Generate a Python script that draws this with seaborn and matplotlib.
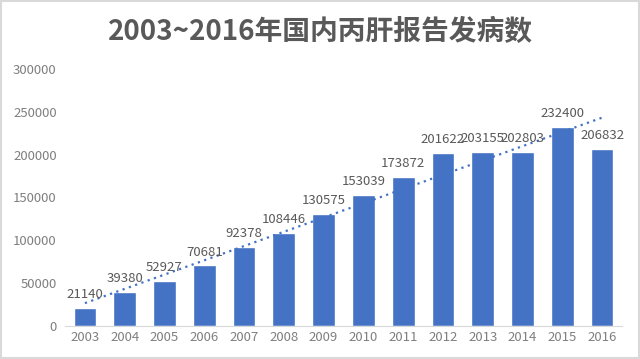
import matplotlib
matplotlib.use("Agg")
import matplotlib.pyplot as plt
import seaborn as sns
import pandas as pd
import numpy as np

years = ["2003", "2004", "2005", "2006", "2007", "2008", "2009",
         "2010", "2011", "2012", "2013", "2014", "2015", "2016"]
cases = [21140, 39380, 52927, 70681, 92378, 108446, 130575,
         153039, 173872, 201622, 203155, 202803, 232400, 206832]

df = pd.DataFrame({"year": years, "cases": cases})

sns.set_style("white")
plt.rcParams["font.family"] = ["Noto Sans CJK SC", "DejaVu Sans"]

fig = plt.figure(figsize=(6.4, 3.59), dpi=100)
ax = fig.add_axes([65 / 640, 33 / 359, 557 / 640, 257 / 359])

blue = "#4472C4"
grey = "#595959"
light = "#7f7f7f"

sns.barplot(data=df, x="year", y="cases", color=blue, width=0.57,
            saturation=1, ax=ax)

ax.bar_label(ax.containers[0], labels=[str(v) for v in cases],
             padding=5, fontsize=9.5, color=grey)

# linear trendline
xs = np.arange(len(cases))
k, b = np.polyfit(xs, cases, 1)
ax.plot(xs, k * xs + b, linestyle=(0, (1, 2)), color=blue, linewidth=1.6)

ax.set_xlim(-0.5, len(cases) - 0.5)
ax.set_ylim(0, 300000)
ax.set_yticks(range(0, 300001, 50000))
ax.set_xlabel("")
ax.set_ylabel("")
ax.tick_params(axis="both", length=0, labelsize=9.5, labelcolor=light)
ax.tick_params(axis="y", pad=6)
for s in ["top", "right", "left"]:
    ax.spines[s].set_visible(False)
ax.spines["bottom"].set_color("#d9d9d9")

fig.text(0.5, 0.912, "2003~2016年国内丙肝报告发病数", ha="center", va="center",
         fontsize=20, fontweight="bold", color=grey)

fig.patches.append(plt.Rectangle((0.002, 0.003), 0.996, 0.994, transform=fig.transFigure,
                                 fill=False, edgecolor="#d9d9d9", linewidth=1.5))

fig.savefig("out.png", dpi=100)
